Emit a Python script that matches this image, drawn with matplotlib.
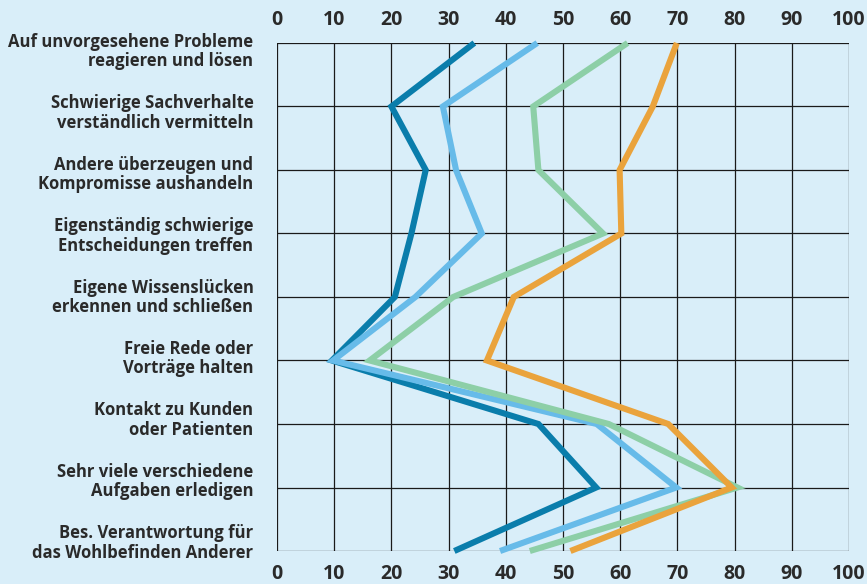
import matplotlib.pyplot as plt

# categories (top to bottom)
categories = [
    "Auf unvorgesehene Probleme\nreagieren und lösen",
    "Schwierige Sachverhalte\nverständlich vermitteln",
    "Andere überzeugen und\nKompromisse aushandeln",
    "Eigenständig schwierige\nEntscheidungen treffen",
    "Eigene Wissenslücken\nerkennen und schließen",
    "Freie Rede oder\nVorträge halten",
    "Kontakt zu Kunden\noder Patienten",
    "Sehr viele verschiedene\nAufgaben erledigen",
    "Bes. Verantwortung für\ndas Wohlbefinden Anderer",
]

# four series
dark_blue = [34.5, 20, 26, 23.5, 20.6, 9.6, 45.7, 55.8, 31]
light_blue = [45.5, 29, 31.3, 35.8, 24.2, 9.8, 55.9, 69.8, 39]
green = [61.3, 44.8, 45.7, 57, 30.8, 16.2, 58, 80.5, 44.2]
orange = [69.9, 65.7, 59.9, 60.2, 41.4, 36.7, 68.4, 79.5, 51.3]

x_ticks = [0, 10, 20, 30, 40, 50, 60, 70, 80, 90, 100]

bg = "#d9eef9"
text_col = "#2a2a2a"
plt.rcParams["font.family"] = ["Open Sans", "DejaVu Sans"]

fig = plt.figure(figsize=(8.67, 5.84), dpi=100, facecolor=bg)
ax = fig.add_axes([0.3195, 0.0565, 0.6597, 0.8699])
ax.set_facecolor(bg)

ypos = list(range(len(categories)))
series = [
    (dark_blue, "#0a7dab"),
    (light_blue, "#67bbe9"),
    (green, "#8dcfa7"),
    (orange, "#eaa33c"),
]
for vals, col in series:
    ax.plot(vals, ypos, color=col, lw=4.4, solid_joinstyle="miter",
            solid_capstyle="butt", zorder=3, clip_on=False)

# grid
for y in ypos:
    ax.axhline(y, color="#1a1a1a", lw=0.9, zorder=1)
for x in x_ticks:
    ax.axvline(x, color="#1a1a1a", lw=0.9, zorder=1)

ax.set_xlim(0, 100)
ax.set_ylim(len(categories) - 1, 0)
for s in ax.spines.values():
    s.set_visible(False)

ax.set_xticks(x_ticks)
ax.tick_params(axis="x", top=True, labeltop=True, length=0, pad=9,
               labelsize=14, labelcolor=text_col)
for t in ax.xaxis.get_major_ticks():
    t.label1.set_fontweight("bold")
    t.label2.set_fontweight("bold")

# label centres drift slightly from grid rows in the original
label_pos = [0.094 + 0.967 * i for i in ypos]
ax.set_yticks(label_pos)
ax.set_yticklabels(categories, fontsize=12, fontweight="bold",
                   color=text_col, linespacing=1.1)
ax.tick_params(axis="y", length=0, pad=17)

fig.savefig("out.png", dpi=100, facecolor=bg)
